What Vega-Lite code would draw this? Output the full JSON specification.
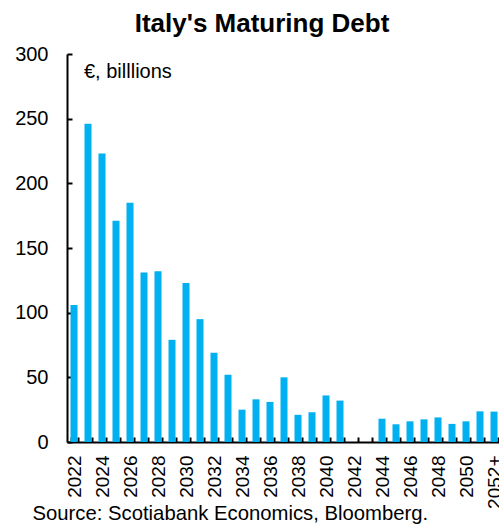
{
  "$schema": "https://vega.github.io/schema/vega-lite/v6.json",
  "width": 434,
  "height": 388,
  "autosize": {"type": "none"},
  "padding": {"left": 67, "top": 54, "right": 0, "bottom": 83},
  "background": "white",
  "config": {
    "view": {"stroke": null},
    "font": "Liberation Sans"
  },
  "title": {
    "text": "Italy's Maturing Debt",
    "font": "Liberation Sans",
    "fontSize": 26,
    "fontWeight": "bold",
    "color": "black",
    "anchor": "middle",
    "dx": -22,
    "offset": 7
  },
  "layer": [
    {
      "data": {
        "values": [
          {"year": "2022", "debt": 106},
          {"year": "2023", "debt": 246},
          {"year": "2024", "debt": 223},
          {"year": "2025", "debt": 171},
          {"year": "2026", "debt": 185},
          {"year": "2027", "debt": 131},
          {"year": "2028", "debt": 132},
          {"year": "2029", "debt": 79},
          {"year": "2030", "debt": 123},
          {"year": "2031", "debt": 95},
          {"year": "2032", "debt": 69},
          {"year": "2033", "debt": 52},
          {"year": "2034", "debt": 25},
          {"year": "2035", "debt": 33},
          {"year": "2036", "debt": 31},
          {"year": "2037", "debt": 50},
          {"year": "2038", "debt": 21},
          {"year": "2039", "debt": 23},
          {"year": "2040", "debt": 36},
          {"year": "2041", "debt": 32},
          {"year": "2042", "debt": 0},
          {"year": "2043", "debt": 0},
          {"year": "2044", "debt": 18},
          {"year": "2045", "debt": 13.7},
          {"year": "2046", "debt": 16},
          {"year": "2047", "debt": 17.5},
          {"year": "2048", "debt": 19},
          {"year": "2049", "debt": 14},
          {"year": "2050", "debt": 16},
          {"year": "2051", "debt": 23.7},
          {"year": "2052+", "debt": 23.5}
        ]
      },
      "mark": {"type": "bar", "color": "#00B0F0"},
      "encoding": {
        "x": {
          "field": "year",
          "type": "ordinal",
          "sort": null,
          "scale": {"paddingInner": 0.5, "paddingOuter": 0.25},
          "axis": {
            "title": "Source: Scotiabank Economics, Bloomberg.",
            "titleFont": "Liberation Sans",
            "titleFontSize": 20.3,
            "titleFontWeight": "normal",
            "titleColor": "black",
            "titleAnchor": "start",
            "titleAlign": "left",
            "titleBaseline": "alphabetic",
            "titleX": -35,
            "titleY": 77,
            "labelAngle": -90,
            "labelAlign": "right",
            "labelBaseline": "middle",
            "labelFontSize": 19,
            "labelColor": "black",
            "labelPadding": 18,
            "labelExpr": "indexof(['2022','2024','2026','2028','2030','2032','2034','2036','2038','2040','2042','2044','2046','2048','2050','2052+'], datum.value) >= 0 ? datum.label : ''",
            "labelOverlap": false,
            "tickBand": "extent",
            "tickSize": -5,
            "tickWidth": 2,
            "tickColor": "black",
            "domainColor": "black",
            "domainWidth": 2
          }
        },
        "y": {
          "field": "debt",
          "type": "quantitative",
          "scale": {"domain": [0, 300]},
          "axis": {
            "title": null,
            "values": [0, 50, 100, 150, 200, 250, 300],
            "grid": false,
            "labelFontSize": 20,
            "labelColor": "black",
            "labelPadding": 24,
            "tickSize": -5,
            "tickWidth": 2,
            "tickColor": "black",
            "domainColor": "black",
            "domainWidth": 2
          }
        }
      }
    },
    {
      "data": {"values": [{"note": "€, billlions"}]},
      "mark": {"type": "text", "align": "left", "baseline": "middle", "fontSize": 20, "fontWeight": "normal", "fill": "black", "dx": -4, "font": "Liberation Sans"},
      "encoding": {
        "x": {"datum": "2023", "type": "ordinal"},
        "y": {"datum": 286, "type": "quantitative"},
        "text": {"field": "note", "type": "nominal"}
      }
    }
  ]
}
